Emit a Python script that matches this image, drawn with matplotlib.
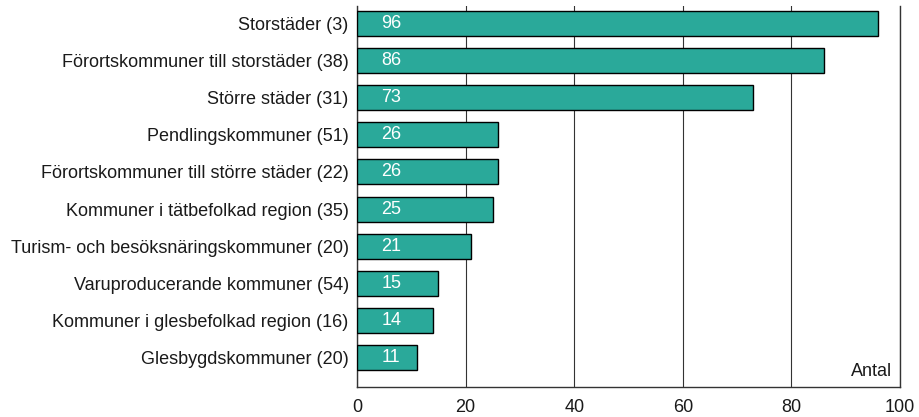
import matplotlib.pyplot as plt

plt.rcParams['font.family'] = ['Liberation Sans', 'DejaVu Sans']

categories = [
    'Storstäder (3)',
    'Förortskommuner till storstäder (38)',
    'Större städer (31)',
    'Pendlingskommuner (51)',
    'Förortskommuner till större städer (22)',
    'Kommuner i tätbefolkad region (35)',
    'Turism- och besöksnäringskommuner (20)',
    'Varuproducerande kommuner (54)',
    'Kommuner i glesbefolkad region (16)',
    'Glesbygdskommuner (20)',
]
values = [96, 86, 73, 26, 26, 25, 21, 15, 14, 11]
xticks = [0, 20, 40, 60, 80, 100]

fig = plt.figure(figsize=(9.19, 4.17), dpi=100)
ax = fig.add_axes([0.3885, 0.072, 0.5908, 0.9136])

pos = list(range(len(categories)))
ax.barh(pos, values, height=0.67, color='#2aa99a', edgecolor='black',
        linewidth=1, zorder=3)
for p, v in zip(pos, values):
    ax.text(4.5, p, str(v), color='white', fontsize=13, ha='left',
            va='center', zorder=4)

ax.set_xlim(0, 100)
ax.set_ylim(9.78, -0.46)
ax.set_xticks(xticks)
ax.set_yticks(pos)
ax.set_yticklabels(categories)
ax.tick_params(axis='both', length=0, labelsize=13, pad=6, labelcolor='#1a1a1a')
ax.tick_params(axis='x', pad=9)
ax.grid(axis='x', color='#333333', linewidth=0.8, zorder=0)
ax.spines['top'].set_visible(False)
for s in ['left', 'bottom', 'right']:
    ax.spines[s].set_color('#333333')
    ax.spines[s].set_linewidth(1)
ax.text(98.5, 9.6, 'Antal', ha='right', va='bottom', fontsize=13,
        color='#1a1a1a')

fig.savefig('out.png', dpi=100)
